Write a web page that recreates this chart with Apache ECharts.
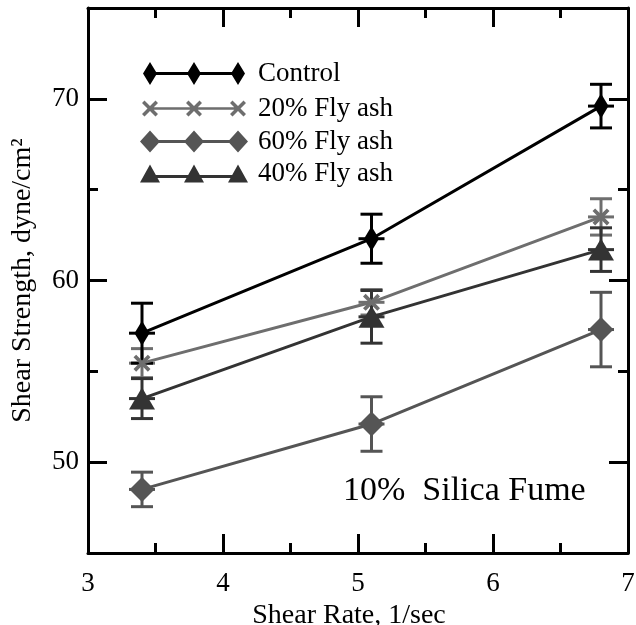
<!DOCTYPE html>
<html>
<head>
<meta charset="utf-8">
<script src="https://cdn.jsdelivr.net/npm/echarts@6/dist/echarts.min.js"></script>
<style>
  html, body { margin: 0; padding: 0; background: #fff; }
  #main { width: 636px; height: 625px; }
</style>
</head>
<body>
<div id="main"></div>
<script>
// shear rate (1/sec) and shear strength (dyne/cm2) with error bars
var shearRate = [3.4, 5.1, 6.8];
var control = [57.1, 62.3, 69.6];
var controlErr = [1.65, 1.35, 1.2];
var fly20 = [55.45, 58.8, 63.5];
var fly20Err = [0.8, 0.7, 1.0];
var fly60 = [48.5, 52.1, 57.3];
var fly60Err = [0.95, 1.5, 2.05];
var fly40 = [53.5, 58.0, 61.7];
var fly40Err = [1.1, 1.45, 1.2];
var yMajor = [50, 60, 70];

var FONT = 'Liberation Serif';

// little path helpers for markers / legend icons
function diamond(cx, cy, hw, hh) {
  return 'M' + cx + ' ' + (cy - hh) + 'L' + (cx + hw) + ' ' + cy + 'L' + cx + ' ' + (cy + hh) + 'L' + (cx - hw) + ' ' + cy + 'Z';
}
function cross(cx, cy, a, t) {
  var p = [
    [cx - a, cy - a + t], [cx - a + t, cy - a], [cx, cy - t], [cx + a - t, cy - a],
    [cx + a, cy - a + t], [cx + t, cy], [cx + a, cy + a - t], [cx + a - t, cy + a],
    [cx, cy + t], [cx - a + t, cy + a], [cx - a, cy + a - t], [cx - t, cy]
  ];
  return 'M' + p.map(function (q) { return q[0] + ' ' + q[1]; }).join('L') + 'Z';
}
function tri(cx, top, hw, h) {
  return 'M' + cx + ' ' + top + 'L' + (cx + hw) + ' ' + (top + h) + 'L' + (cx - hw) + ' ' + (top + h) + 'Z';
}
function bar(x0, x1, cy, t) {
  return 'M' + x0 + ' ' + (cy - t / 2) + 'L' + x1 + ' ' + (cy - t / 2) + 'L' + x1 + ' ' + (cy + t / 2) + 'L' + x0 + ' ' + (cy + t / 2) + 'Z';
}
function icon(h, lineY, thick, mark) {
  var s = bar(h, h + 88, lineY, thick);
  [h, h + 44, h + 88].forEach(function (c) { s += mark(c); });
  return 'path://' + s;
}

var iconControl = icon(7, 11.5, 3, function (c) { return diamond(c, 11.5, 7, 11.5); });
var icon20 = icon(8, 8, 2.5, function (c) { return cross(c, 8, 8, 2.5); });
var icon60 = icon(10, 11, 3, function (c) { return diamond(c, 11, 10, 11); });
var icon40 = icon(10, 12, 3, function (c) { return tri(c, 0, 10, 18); });

function pts(ys) {
  return shearRate.map(function (x, i) { return [x, ys[i]]; });
}

function lineSeries(name, color, ys, symbol, size) {
  return {
    type: 'line',
    name: name,
    data: pts(ys),
    symbol: symbol,
    symbolSize: size,
    showSymbol: true,
    lineStyle: { color: color, width: 3 },
    itemStyle: { color: color, borderWidth: 0 },
    z: 4,
    animation: false
  };
}

function errorSeries(name, color, ys, errs) {
  return {
    type: 'custom',
    name: name,
    data: shearRate.map(function (x, i) { return [x, ys[i], errs[i]]; }),
    encode: { x: 0, y: 1 },
    z: 3,
    animation: false,
    renderItem: function (params, api) {
      var x = api.value(0), y = api.value(1), e = api.value(2);
      var hi = api.coord([x, y + e]);
      var lo = api.coord([x, y - e]);
      var c = api.coord([x, y]);
      var st = { stroke: color, lineWidth: 3 };
      return {
        type: 'group',
        children: [
          { type: 'line', shape: { x1: hi[0], y1: hi[1], x2: lo[0], y2: lo[1] }, style: st },
          { type: 'line', shape: { x1: hi[0] - 11, y1: hi[1], x2: hi[0] + 11, y2: hi[1] }, style: st },
          { type: 'line', shape: { x1: lo[0] - 11, y1: lo[1], x2: lo[0] + 11, y2: lo[1] }, style: st },
          { type: 'line', shape: { x1: c[0] - 13, y1: c[1], x2: c[0] + 13, y2: c[1] }, style: st }
        ]
      };
    }
  };
}

function legendOf(name, ic, h, w, ih, top, pad) {
  return {
    data: [{ name: name, icon: ic }],
    left: 150 - h,
    top: top,
    padding: 0,
    itemWidth: w,
    itemHeight: ih,
    selectedMode: false,
    itemStyle: { borderWidth: 0 },
    textStyle: { fontFamily: FONT, fontSize: 27, color: '#000', padding: [0, 0, 0, pad] }
  };
}

function xAxisOf(pos, showLabel) {
  return {
    type: 'value', position: pos, min: 3, max: 7, interval: 1,
    axisLine: { onZero: false, lineStyle: { color: '#000', width: 3 } },
    axisTick: { inside: true, length: 19, lineStyle: { color: '#000', width: 3 } },
    minorTick: { show: true, splitNumber: 2, length: 10, lineStyle: { color: '#000', width: 3 } },
    splitLine: { show: false },
    minorSplitLine: { show: false },
    axisLabel: { show: showLabel, fontFamily: FONT, fontSize: 27, color: '#000', margin: 17 },
    name: showLabel ? 'Shear Rate, 1/sec' : '',
    nameLocation: 'middle',
    nameGap: 41,
    nameTextStyle: { fontFamily: FONT, fontSize: 28, color: '#000', padding: [0, 18, 0, 0] }
  };
}

function yAxisOf(pos, major, showLabel) {
  var ax = {
    type: 'value', position: pos, min: 45, max: 75, interval: 5,
    axisLine: { show: major, onZero: false, lineStyle: { color: '#000', width: 3 } },
    axisTick: { inside: true, length: major ? 19 : 10, lineStyle: { color: '#000', width: 3 } },
    splitLine: { show: false },
    axisLabel: { show: showLabel, fontFamily: FONT, fontSize: 27, color: '#000', margin: 9 },
    name: showLabel ? 'Shear Strength, dyne/cm\u00b2' : '',
    nameLocation: 'middle',
    nameGap: 51,
    nameTextStyle: { fontFamily: FONT, fontSize: 28, color: '#000' }
  };
  if (major) {
    ax.axisTick.customValues = yMajor;
    ax.axisLabel.customValues = yMajor;
  }
  return ax;
}

var chart = echarts.init(document.getElementById('main'), null, { renderer: 'canvas' });

chart.setOption({
  backgroundColor: '#fff',
  animation: false,
  textStyle: { fontFamily: FONT },
  grid: { left: 88, right: 8, top: 8, bottom: 72, containLabel: false, outerBoundsMode: 'none' },
  xAxis: [xAxisOf('bottom', true), xAxisOf('top', false)],
  yAxis: [yAxisOf('left', true, true), yAxisOf('left', false, false), yAxisOf('right', true, false), yAxisOf('right', false, false)],
  legend: [
    legendOf('Control', iconControl, 7, 102, 23, 60, 8),
    legendOf('20% Fly ash', icon20, 8, 104, 16, 95, 7),
    legendOf('60% Fly ash', icon60, 10, 108, 22, 128, 5),
    legendOf('40% Fly ash', icon40, 10, 108, 18, 160, 5)
  ],
  title: {
    text: '10%  Silica Fume',
    left: 343,
    top: 474,
    padding: 0,
    textStyle: { fontFamily: FONT, fontSize: 34, fontWeight: 'normal', color: '#000' }
  },
  series: [
    errorSeries('20% err', '#6e6e6e', fly20, fly20Err),
    errorSeries('40% err', '#333333', fly40, fly40Err),
    errorSeries('60% err', '#555555', fly60, fly60Err),
    errorSeries('Control err', '#000000', control, controlErr),
    lineSeries('20% Fly ash', '#6e6e6e', fly20, 'path://' + cross(0, 0, 8, 2.5), [17, 17]),
    lineSeries('40% Fly ash', '#333333', fly40, 'triangle', [26, 22]),
    lineSeries('60% Fly ash', '#555555', fly60, 'diamond', [25, 25]),
    lineSeries('Control', '#000000', control, 'diamond', [15, 25])
  ]
});
</script>
</body>
</html>
